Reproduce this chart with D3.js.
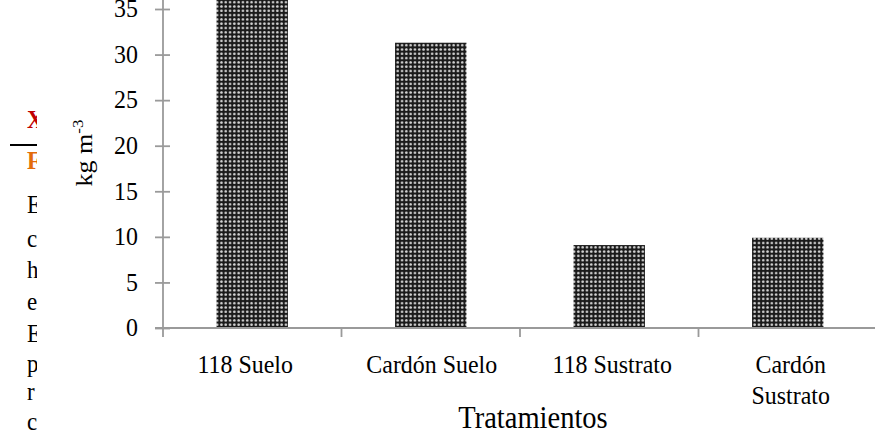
<!DOCTYPE html>
<html>
<head>
<meta charset="utf-8">
<script src="https://cdn.jsdelivr.net/npm/d3@7"></script>
<style>
  html, body { margin: 0; padding: 0; background: #fff; }
  svg { display: block; }
  text { font-family: "Liberation Serif", "Times New Roman", Times, serif; fill: #000; }
</style>
</head>
<body>
<svg id="chart" width="875" height="441"></svg>
<script>
// ---- data ----
const categories = ["118 Suelo", "Cardón Suelo", "118 Sustrato", "Cardón Sustrato"];
const values = [38, 31.3, 9.1, 9.9];
const yTicks = [0, 5, 10, 15, 20, 25, 30, 35];
const yLabel = "kg m";
const yLabelSup = "-3";
const xLabel = "Tratamientos";
// fragments of surrounding document text, clipped at the left edge
const sideLetters = ["E", "c", "h", "e", "E", "p", "r", "c"];
const sideBaselines = [213, 247, 278, 310, 342, 372, 400, 430];

const svg = d3.select("#chart");
const W = 875, H = 441;
const SX = 0.92; // glyphs in the reference are slightly taller than wide

const x = d3.scaleBand().domain(categories).range([163, 877]).paddingInner(0.6).paddingOuter(0.3);
const y = d3.scaleLinear().domain([0, 35]).range([328, 9]);

const defs = svg.append("defs");
const pat = defs.append("pattern")
  .attr("id", "dots").attr("patternUnits", "userSpaceOnUse")
  .attr("width", 4.3).attr("height", 4.3);
pat.append("rect").attr("width", 4.3).attr("height", 4.3).attr("fill", "#1a1a1a");
pat.append("circle").attr("cx", 2.15).attr("cy", 2.15).attr("r", 1.3).attr("fill", "#d4d4d4");

defs.append("clipPath").attr("id", "sideClip")
  .append("rect").attr("x", 0).attr("y", 0).attr("width", 37).attr("height", H);

function sText(g, px, py, size, str) {
  return g.append("text").attr("transform", `translate(${px},${py}) scale(${SX},1)`)
    .attr("font-size", size).text(str);
}

// ---- bars ----
const band = x.step();
svg.append("g").selectAll("rect").data(categories).join("rect")
  .attr("x", d => x(d))
  .attr("width", x.bandwidth())
  .attr("y", (d, i) => y(values[i]))
  .attr("height", (d, i) => y(0) - y(values[i]))
  .attr("fill", "url(#dots)");

const axisColor = "#9a9a9a";

// ---- y axis ----
const yAxis = d3.axisLeft(y).tickValues(yTicks).tickSize(0).tickPadding(0);
const gy = svg.append("g").attr("transform", "translate(163,0)").call(yAxis);
gy.attr("font-family", null);
gy.select(".domain").remove();
gy.selectAll(".tick text")
  .attr("x", -25 / SX).attr("dy", "0.3em")
  .attr("transform", `scale(${SX},1)`)
  .attr("font-size", 26)
  .style("font-family", "'Liberation Serif', 'Times New Roman', serif");
gy.selectAll(".tick").append("line").attr("x1", -8).attr("x2", 7).attr("stroke", axisColor).attr("stroke-width", 1.8);
gy.append("line").attr("x1", 0).attr("x2", 0).attr("y1", y(0) + 1).attr("y2", 0)
  .attr("stroke", axisColor).attr("stroke-width", 1.8);

// ---- x axis ----
const gx = svg.append("g");
gx.append("line").attr("x1", 155).attr("x2", W).attr("y1", y(0)).attr("y2", y(0))
  .attr("stroke", axisColor).attr("stroke-width", 1.8);
gx.selectAll("line.tk").data(categories).join("line").attr("class", "tk")
  .attr("x1", d => x(d) + x.bandwidth() / 2 - band / 2)
  .attr("x2", d => x(d) + x.bandwidth() / 2 - band / 2)
  .attr("y1", y(0)).attr("y2", y(0) + 9)
  .attr("stroke", axisColor).attr("stroke-width", 1.8);

// category labels (wrap the last)
const labelLines = [["118 Suelo"], ["Cardón Suelo"], ["118 Sustrato"], ["Cardón", "Sustrato"]];
const labelShift = [-7, 1, 3, 3];
categories.forEach((c, ci) => {
  const cx = x(c) + x.bandwidth() / 2 + labelShift[ci];
  labelLines[ci].forEach((ln, i) => {
    sText(svg, cx, 373 + i * 31, 26, ln).attr("text-anchor", "middle");
  });
});

sText(svg, 533, 428, 31, xLabel).attr("text-anchor", "middle");

// y label
const yl = svg.append("text").attr("text-anchor", "middle").attr("font-size", 26)
  .attr("transform", `translate(92,153) rotate(-90) scale(1,${SX})`);
yl.append("tspan").text(yLabel);
yl.append("tspan").attr("font-size", 17).attr("dy", -10).text(yLabelSup);

// ---- side fragments ----
const side = svg.append("g").attr("clip-path", "url(#sideClip)");
sText(side, 27, 128, 25, "X").attr("font-weight", "bold").style("fill", "#c00000");
side.append("line").attr("x1", 10).attr("x2", 37).attr("y1", 145).attr("y2", 145)
  .attr("stroke", "#000").attr("stroke-width", 2);
sText(side, 27, 169, 25, "F").attr("font-weight", "bold").style("fill", "#e36c09");
sideLetters.forEach((d, i) => sText(side, 27, sideBaselines[i], 25, d));
</script>
</body>
</html>
